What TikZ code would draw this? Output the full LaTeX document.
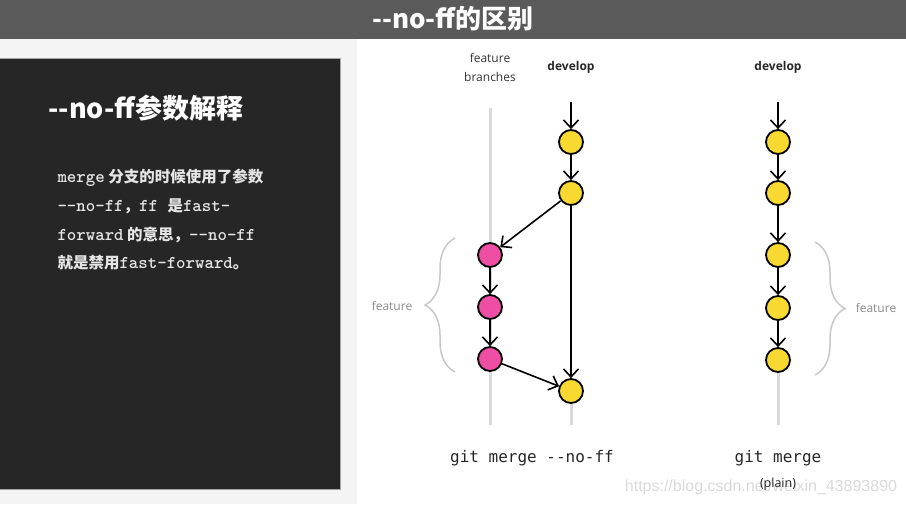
\documentclass[tikz,border=0pt]{standalone}
\usepackage{fontspec}
\setmainfont{Open Sans}
\newfontfamily\cjk{Noto Sans CJK SC}
\newcommand{\codetext}[1]{{\ttfamily\bfseries\fontsize{18}{18}\selectfont #1}}
\newfontfamily\gitfont{DejaVu Sans Mono}
\newfontfamily\wmfont{Liberation Sans}
\usetikzlibrary{arrows.meta,decorations.pathreplacing}

\definecolor{barGray}{HTML}{5A5A5A}
\definecolor{panelBlack}{HTML}{262626}
\definecolor{paleBack}{HTML}{F4F4F4}
\definecolor{commitYellow}{HTML}{F7D932}
\definecolor{commitPink}{HTML}{EE4FA5}
\definecolor{trackGray}{HTML}{DADADA}
\definecolor{braceGray}{HTML}{C8C8C8}
\definecolor{labelGray}{HTML}{8A8A8A}

\tikzset{
    commit/.style={circle, draw=black, line width=1.8pt, minimum size=24pt, inner sep=0pt},
    devcommit/.style={commit, fill=commitYellow},
    featcommit/.style={commit, fill=commitPink},
    flow/.style={line width=1.6pt, -{Straight Barb[length=8pt, width=15pt, line width=1.6pt]}},
    track/.style={trackGray, line width=3pt},
    bracket/.style={braceGray, line width=1.5pt, decorate, decoration={brace, amplitude=30pt}}
}

\begin{document}
\begin{tikzpicture}[x=1pt, y=-1pt]
    \useasboundingbox (0, 0) rectangle (906, 504);

    % Title bar
    \fill[barGray] (0, 0) rectangle (906, 39);
    \node[white, font={\cjk\bfseries\fontsize{26}{26}\selectfont}] (title) at (453, 19) {--no-ff的区别};

    % Left explanation panel
    \fill[paleBack] (0, 39) rectangle (357, 504);
    \draw[fill=panelBlack, draw=gray!70, line width=1pt] (-2, 58) rectangle (340, 489);
    \node[white, anchor=west, font={\cjk\bfseries\fontsize{27}{27}\selectfont}] (paneltitle) at (45, 108) {--no-ff参数解释};
    \begin{scope}[every node/.style={anchor=west, text=white!90!black, font={\cjk\bfseries\fontsize{15.5}{15.5}\selectfont}}]
        \node (line1) at (54, 178) {\codetext{merge} 分支的时候使用了参数};
        \node (line2) at (54, 206) {\codetext{--no-ff}，\codetext{ff }是\codetext{fast-}};
        \node (line3) at (54, 235) {\codetext{forward} 的意思，\codetext{--no-ff}};
        \node (line4) at (54, 263) {就是禁用\codetext{fast-forward}。};
    \end{scope}

    % --no-ff: branch tracks
    \draw[track] (490, 108) -- (490, 425);
    \draw[track] (571, 391) -- (571, 425);

    % --no-ff: headers
    \node[black!80, font=\fontsize{12}{12}\selectfont, align=center] (fbhead) at (490, 67) {feature\\[7pt]branches};
    \node[black!85, font=\bfseries\fontsize{12}{12}\selectfont] (dvhead) at (571, 67) {develop};

    % --no-ff: commits
    \node[devcommit] (a1) at (571, 142) {};
    \node[devcommit] (a2) at (571, 193) {};
    \node[featcommit] (f1) at (490, 255) {};
    \node[featcommit] (f2) at (490, 307) {};
    \node[featcommit] (f3) at (490, 359) {};
    \node[devcommit] (am) at (571, 391) {};
    \coordinate (atop) at (571, 102);

    % --no-ff: arrows
    \draw[flow] (atop) -- (a1);
    \draw[flow] (a1) -- (a2);
    \draw[flow] (a2) -- (f1);
    \draw[flow] (f1) -- (f2);
    \draw[flow] (f2) -- (f3);
    \draw[flow] (a2) -- (am);
    \draw[flow] (f3) -- (am);

    % --no-ff: feature brace
    \draw[bracket] (455, 372) -- (455, 238);
    \node[labelGray, font=\fontsize{12}{12}\selectfont] (flabel1) at (392, 306) {feature};

    \node[black!85, font={\gitfont\fontsize{16}{16}\selectfont}] (cap1) at (532, 458) {git merge --no-ff};

    % plain merge: track and header
    \draw[track] (778, 360) -- (778, 425);
    \node[black!85, font=\bfseries\fontsize{12}{12}\selectfont] (dvhead2) at (778, 67) {develop};

    % plain merge: commits
    \node[devcommit] (b1) at (778, 142) {};
    \node[devcommit] (b2) at (778, 193) {};
    \node[devcommit] (b3) at (778, 255) {};
    \node[devcommit] (b4) at (778, 308) {};
    \node[devcommit] (b5) at (778, 360) {};
    \coordinate (btop) at (778, 102);

    % plain merge: arrows
    \draw[flow] (btop) -- (b1);
    \draw[flow] (b1) -- (b2);
    \draw[flow] (b2) -- (b3);
    \draw[flow] (b3) -- (b4);
    \draw[flow] (b4) -- (b5);

    % plain merge: feature brace
    \draw[bracket] (815, 242) -- (815, 375);
    \node[labelGray, font=\fontsize{12}{12}\selectfont] (flabel2) at (876, 308) {feature};

    \node[black!85, font={\gitfont\fontsize{16}{16}\selectfont}] (cap2) at (778, 458) {git merge};

    % watermark
    \node[gray!30, font={\wmfont\fontsize{16}{16}\selectfont}] (wmark) at (761, 487) {https://blog.csdn.net/weixin\_43893890};
    \node[black!85, font=\fontsize{12.5}{12.5}\selectfont] (cap2b) at (778, 484) {(plain)};
\end{tikzpicture}
\end{document}
